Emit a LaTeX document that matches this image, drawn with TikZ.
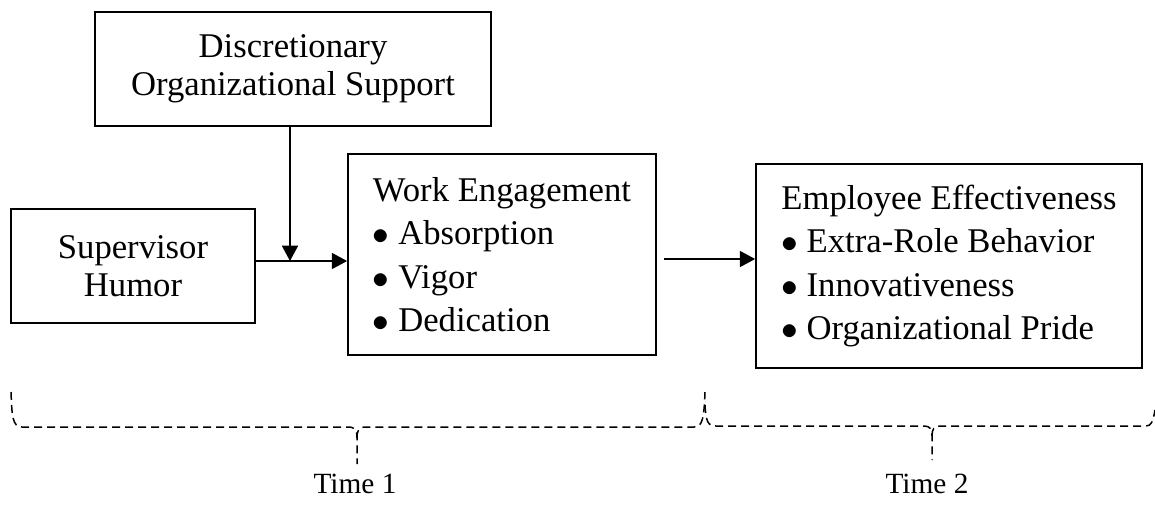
\documentclass[tikz,border=0pt]{standalone}
\usepackage{fontspec}
\setmainfont{Liberation Serif}
\usetikzlibrary{arrows.meta}

\newcommand{\bul}{$\bullet$\ }

\tikzset{
  box/.style={draw, line width=0.5pt, align=center, inner sep=0pt,
    font=\fontsize{10.4}{11.4}\selectfont},
  listbox/.style={draw, line width=0.5pt, align=left, inner sep=0pt,
    font=\fontsize{10.4}{13}\selectfont},
  flow/.style={line width=0.5pt, -{Triangle[length=4.6pt,width=4.8pt]}},
  period/.style={line width=0.45pt, dash pattern=on 2.4pt off 1.5pt},
  timelabel/.style={anchor=base, font=\fontsize{8.8}{10}\selectfont},
}

\begin{document}
\begin{tikzpicture}[x=0.3pt,y=-0.3pt]
\useasboundingbox (0,0) rectangle (1155,504);

% constructs
\node[box, minimum width=118.8pt, minimum height=34.2pt] (dos) at (293,69)
  {Discretionary\\Organizational Support};
\node[box, minimum width=73.2pt, minimum height=34.2pt] (humor) at (133,266)
  {Supervisor\\Humor};
\node[listbox, minimum width=92.4pt, minimum height=60.3pt] (engage) at (502,254.5)
  {Work Engagement\\\bul Absorption\\\bul Vigor\\\bul Dedication};
\node[listbox, minimum width=115.8pt, minimum height=61.2pt] (effect) at (949,266)
  {Employee Effectiveness\\\bul Extra-Role Behavior\\\bul Innovativeness\\\bul Organizational Pride};

% paths
\coordinate (join) at (290,261);
\coordinate (mid) at (700,259);
\draw[flow] (humor.east |- join) -- (engage.west |- join);
\draw[flow] (dos.south -| join) -- (join);
\draw[flow, shorten <=2.1pt] (engage.east |- mid) -- (effect.west |- mid);

% time braces
\draw[period] (11,392) .. controls (12,415) and (12,427) .. (22,427) -- (348,427)
  .. controls (355,427) and (357,430) .. (357,438) -- (357,464);
\draw[period] (357,438) .. controls (357,430) and (359,427) .. (366,427) -- (694,427)
  .. controls (702,427) and (704,420) .. (705,392);
\draw[period] (705,405) .. controls (706,422) and (708,426) .. (716,426) -- (924,426)
  .. controls (930,426) and (932,429) .. (932,436) -- (932,460);
\draw[period] (932,436) .. controls (932,429) and (934,426) .. (940,426) -- (1146,426)
  .. controls (1151,426) and (1153,422) .. (1155,410);

\node[timelabel] (t1) at (355,493) {Time 1};
\node[timelabel] (t2) at (927,493) {Time 2};
\end{tikzpicture}
\end{document}
